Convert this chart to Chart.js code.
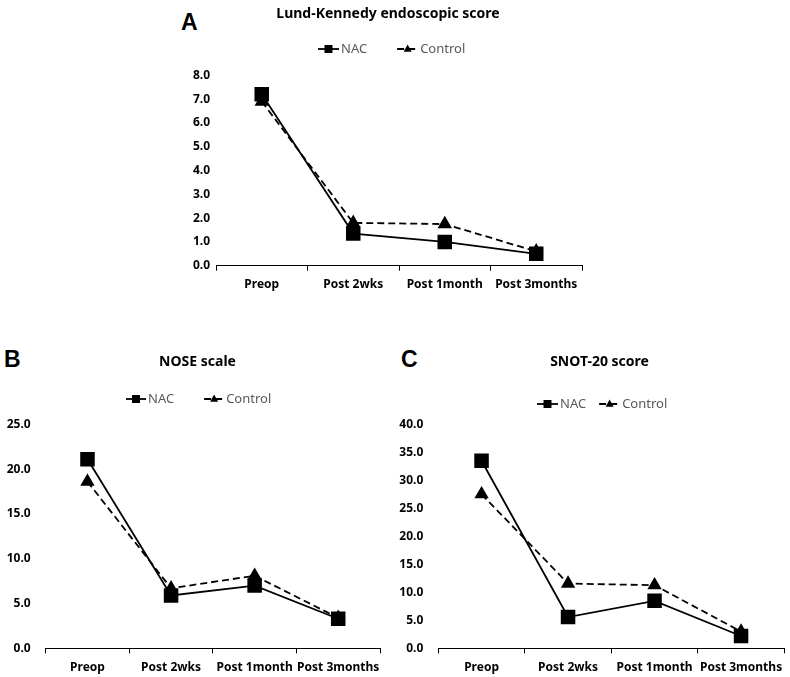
<!DOCTYPE html>
<html>
<head>
<meta charset="utf-8">
<script src="https://cdn.jsdelivr.net/npm/chart.js@4.4.1/dist/chart.umd.min.js"></script>
<style>
body { margin: 0; background: #fff; width: 790px; height: 677px; position: relative; overflow: hidden; }
canvas { position: absolute; }
.tag { position: absolute; font-family: "Liberation Sans", Arial, sans-serif; font-weight: bold; font-size: 23px; line-height: 26px; }
</style>
</head>
<body>
<div class="tag" style="left:181px;top:9px">A</div>
<div class="tag" style="left:4px;top:346px">B</div>
<div class="tag" style="left:401px;top:346px">C</div>
<canvas id="chartA" width="436" height="300" style="left:170px;top:0px"></canvas>
<canvas id="chartB" width="395" height="347" style="left:0px;top:330px"></canvas>
<canvas id="chartC" width="409" height="347" style="left:395px;top:330px"></canvas>
<script>
var categories = ['Preop', 'Post 2wks', 'Post 1month', 'Post 3months'];

// Lund-Kennedy endoscopic score
var lkNac = [7.2, 1.35, 1.0, 0.5];
var lkControl = [6.9, 1.8, 1.75, 0.6];

// NOSE scale
var noseNac = [21.1, 5.9, 7.0, 3.3];
var noseControl = [18.6, 6.7, 8.1, 3.4];

// SNOT-20 score
var snotNac = [33.6, 5.6, 8.5, 2.2];
var snotControl = [27.6, 11.6, 11.3, 3.0];

var FONT = '"Noto Sans", "Open Sans", sans-serif';

function drawMarker(ctx, style, x, y, r) {
    ctx.fillStyle = '#000';
    ctx.beginPath();
    if (style == 'rect') {
        ctx.rect(x - r, y - r, 2 * r, 2 * r);
    } else {
        ctx.moveTo(x, y - r * 1.1);
        ctx.lineTo(x + r, y + r * 0.7);
        ctx.lineTo(x - r, y + r * 0.7);
        ctx.closePath();
    }
    ctx.fill();
}

// legend with a line segment + marker like the excel one
var lineLegend = {
    id: 'lineLegend',
    afterDraw: function (chart, args, opts) {
        var ctx = chart.ctx;
        var x = opts.x;
        ctx.save();
        ctx.font = '13px ' + FONT;
        ctx.textBaseline = 'middle';
        chart.data.datasets.forEach(function (ds) {
            ctx.strokeStyle = '#000';
            ctx.lineWidth = 1.8;
            ctx.setLineDash(ds.borderDash || []);
            ctx.beginPath();
            ctx.moveTo(x, opts.y);
            ctx.lineTo(x + opts.lineLen, opts.y);
            ctx.stroke();
            ctx.setLineDash([]);
            drawMarker(ctx, ds.pointStyle, x + opts.lineLen / 2, opts.y, 4);
            ctx.fillStyle = '#595959';
            ctx.fillText(ds.label, x + opts.lineLen + opts.textGap, opts.y);
            x += opts.lineLen + opts.textGap + ctx.measureText(ds.label).width + opts.itemGap;
        });
        ctx.restore();
    }
};

function makeChart(id, title, nac, control, yMax, yStep, lay) {
    return new Chart(document.getElementById(id), {
        type: 'line',
        data: {
            labels: categories,
            datasets: [{
                label: 'NAC',
                data: nac,
                borderColor: '#000',
                backgroundColor: '#000',
                borderWidth: 1.8,
                pointStyle: 'rect',
                pointRadius: 9,
                pointBackgroundColor: '#000',
                tension: 0
            }, {
                label: 'Control',
                data: control,
                borderColor: '#000',
                backgroundColor: '#000',
                borderWidth: 1.8,
                borderDash: [7, 4],
                pointStyle: 'triangle',
                pointRadius: 6.5,
                pointBackgroundColor: '#000',
                tension: 0
            }]
        },
        options: {
            responsive: false,
            animation: false,
            layout: { padding: 0 },
            plugins: {
                legend: { display: false },
                tooltip: { enabled: false },
                title: {
                    display: true,
                    text: title,
                    color: '#000',
                    font: { family: FONT, size: 14, weight: 'bold' },
                    padding: { top: lay.titleTop, bottom: lay.titleBottom }
                },
                lineLegend: lay.legend
            },
            scales: {
                x: {
                    offset: true,
                    grid: { offset: true, drawOnChartArea: false, drawTicks: true, tickLength: 5, color: '#000' },
                    border: { display: true, color: '#000', width: 1 },
                    ticks: {
                        color: '#000', padding: 7, maxRotation: 0, autoSkip: false,
                        font: { family: FONT, size: 12, weight: 'bold' }
                    },
                    afterFit: function (scale) { scale.height = lay.xHeight; }
                },
                y: {
                    min: 0,
                    max: yMax,
                    grid: { display: false, drawTicks: false },
                    border: { display: false },
                    ticks: {
                        stepSize: yStep,
                        color: '#000',
                        padding: lay.yPad,
                        font: { family: FONT, size: 12, weight: 'bold' },
                        callback: function (v) { return Number(v).toFixed(1); }
                    },
                    afterFit: function (scale) { scale.width = lay.yWidth; }
                },
                // empty right axis, only holds the space right of the plot
                yRight: {
                    position: 'right',
                    grid: { display: false, drawTicks: false },
                    border: { display: false },
                    ticks: { display: false },
                    afterFit: function (scale) { scale.width = lay.rightWidth; }
                }
            }
        },
        plugins: [lineLegend]
    });
}

makeChart('chartA', 'Lund-Kennedy endoscopic score', lkNac, lkControl, 8, 1, {
    titleTop: 6, titleBottom: 52.5, xHeight: 34.3, yPad: 6, yWidth: 46, rightWidth: 24,
    legend: { x: 148, y: 49, lineLen: 21, textGap: 2, itemGap: 30 }
});
makeChart('chartB', 'NOSE scale', noseNac, noseControl, 25, 5, {
    titleTop: 23.3, titleBottom: 54.2, xHeight: 28.7, yPad: 15, yWidth: 45.7, rightWidth: 15,
    legend: { x: 126, y: 69, lineLen: 20, textGap: 2, itemGap: 30 }
});
makeChart('chartC', 'SNOT-20 score', snotNac, snotControl, 40, 5, {
    titleTop: 23.6, titleBottom: 54.6, xHeight: 28.7, yPad: 15, yWidth: 43.3, rightWidth: 19.7,
    legend: { x: 142, y: 74, lineLen: 21, textGap: 2, itemGap: 13 }
});
</script>
</body>
</html>
